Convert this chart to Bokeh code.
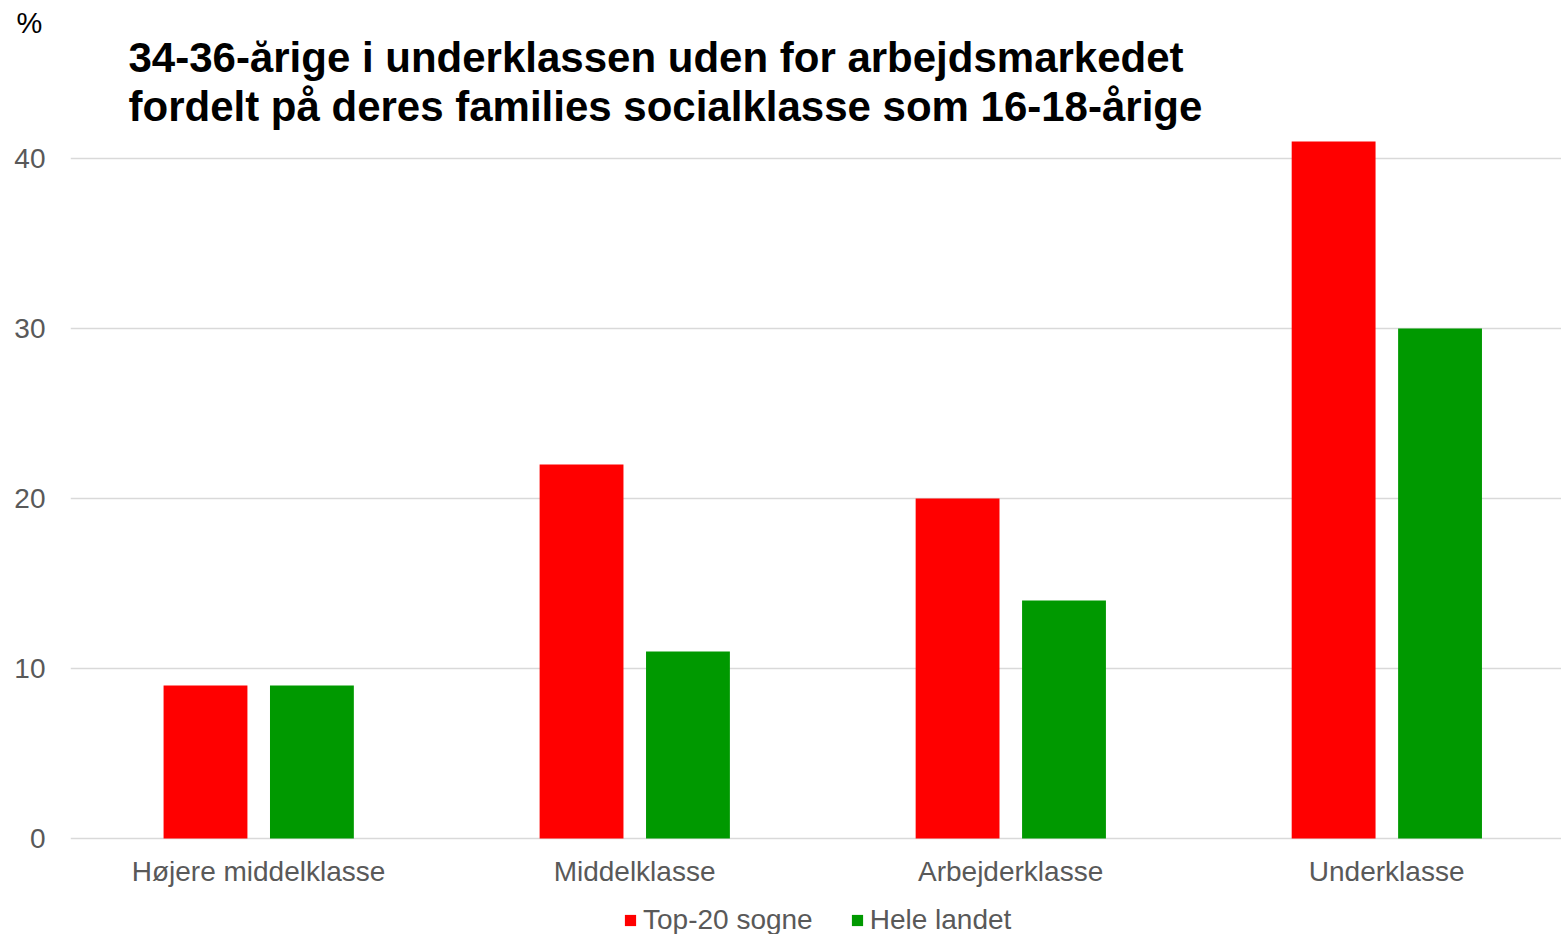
from bokeh.plotting import figure
from bokeh.models import ColumnDataSource, Range1d, FixedTicker, Legend, LegendItem, Label
from bokeh.transform import dodge
from bokeh.core.properties import value
from bokeh.embed import file_html
from bokeh.resources import INLINE

categories = ["Højere middelklasse", "Middelklasse", "Arbejderklasse", "Underklasse"]
top20 = [9, 22, 20, 41]
hele_landet = [9, 11, 14, 30]
series_names = ["Top-20 sogne", "Hele landet"]
y_ticks = [0, 10, 20, 30, 40]
title_lines = ["34-36-årige i underklassen uden for arbejdsmarkedet",
               "fordelt på deres families socialklasse som 16-18-årige"]
unit_label = "%"

idx = list(range(len(categories)))
src = ColumnDataSource(data=dict(x=idx, cat=categories, top20=top20, hele=hele_landet))

FONT = "Liberation Sans"
GRAY = "#595959"

p = figure(width=1561, height=934, output_backend="svg", toolbar_location=None,
           x_range=Range1d(-0.5, 3.465), y_range=Range1d(-5.647, 46.94),
           x_axis_location=None,
           min_border_left=70, min_border_right=0, min_border_top=40, min_border_bottom=0)
p.outline_line_color = None
p.background_fill_color = "white"
p.border_fill_color = "white"

# unit label as (left aligned) title above the frame
p.title.text = unit_label
p.title.align = "left"
p.title.offset = -54
p.title.standoff = 4
p.title.text_font = FONT
p.title.text_font_size = "29px"
p.title.text_font_style = "normal"
p.title.text_color = "black"

r1 = p.vbar(x=dodge("x", -0.141, range=p.x_range), top="top20", width=0.223, source=src,
            fill_color="#ff0000", line_color=None)
r2 = p.vbar(x=dodge("x", 0.142, range=p.x_range), top="hele", width=0.223, source=src,
            fill_color="#009900", line_color=None)

# category labels under the bars
p.text(x="x", y=0, text="cat", source=src, y_offset=33, text_align="center",
       text_baseline="middle", text_font=value(FONT), text_font_size="28px",
       text_color=GRAY)

# y axis
p.yaxis.ticker = FixedTicker(ticks=y_ticks)
ax = p.yaxis[0]
ax.axis_line_color = None
ax.major_tick_line_color = None
ax.minor_tick_line_color = None
ax.major_label_text_font = FONT
ax.major_label_text_font_size = "28px"
ax.major_label_text_color = GRAY
ax.major_label_standoff = 19

p.xgrid.grid_line_color = None
p.ygrid.ticker = FixedTicker(ticks=y_ticks)
p.ygrid.grid_line_color = "#d9d9d9"
p.ygrid.grid_line_width = 1.5

legend = Legend(items=[LegendItem(label=series_names[0], renderers=[r1]),
                       LegendItem(label=series_names[1], renderers=[r2])],
                orientation="horizontal", location=(553, -2),
                glyph_width=14, glyph_height=14, label_standoff=6, spacing=37,
                label_height=20, padding=0, margin=0, border_line_color=None,
                background_fill_alpha=0,
                label_text_font=FONT, label_text_font_size="28px", label_text_color=GRAY)
p.add_layout(legend)

# two-line heading
p.add_layout(Label(x=58, x_units="screen", y=45.94, text=title_lines[0], text_font=FONT,
                   text_font_size="42px", text_font_style="bold", text_color="black",
                   text_baseline="middle", text_align="left"))
p.add_layout(Label(x=58, x_units="screen", y=43.06, text=title_lines[1], text_font=FONT,
                   text_font_size="42px", text_font_style="bold", text_color="black",
                   text_baseline="middle", text_align="left"))

open("out.html", "w").write(file_html(p, INLINE))
